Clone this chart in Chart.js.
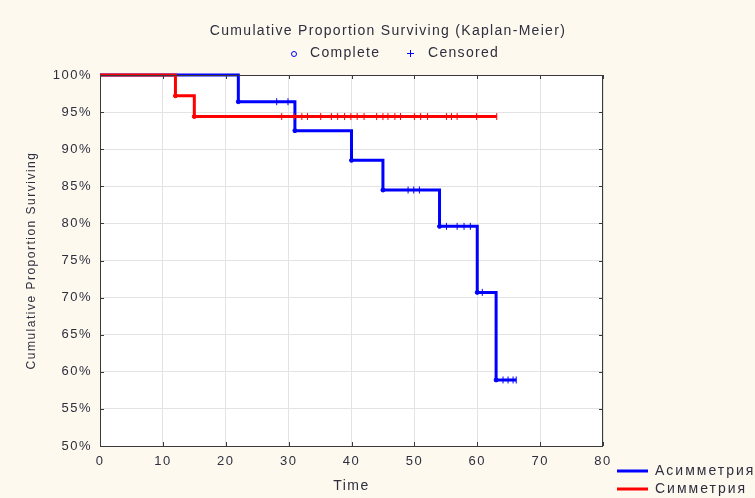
<!DOCTYPE html>
<html>
<head>
<meta charset="utf-8">
<script src="https://cdn.jsdelivr.net/npm/chart.js@4.4.1/dist/chart.umd.min.js"></script>
<style>
  html, body { margin: 0; padding: 0; background: #fdf9ef; }
  #wrap { width: 755px; height: 498px; }
</style>
</head>
<body>
<div id="wrap"><canvas id="km"></canvas></div>
<script>
  // Kaplan-Meier step curves: time and % surviving
  const asymName = 'Асимметрия';
  const asymTimes = [0, 22, 31, 40, 45, 54, 60, 63, 66.2];
  const asymSurv = [100, 96.4, 92.5, 88.5, 84.5, 79.6, 70.7, 58.9, 58.9];

  const symName = 'Симметрия';
  const symTimes = [0, 12, 15, 63.1];
  const symSurv = [100, 97.2, 94.4, 94.4];

  // Complete (event) times
  const asymComplete = [22, 31, 40, 45, 54, 60, 63];
  const symComplete = [12, 15];

  // Censored times
  const asymCensored = [28.1, 29.9, 49.0, 49.9, 50.8, 55.1, 56.8, 57.9, 58.9, 60.8, 64.1, 64.9, 65.7, 66.2];
  const symCensored = [28.9, 30.9, 32.1, 33.0, 35.1, 36.8, 37.8, 38.9, 39.9, 40.9, 42.0, 44.0,
    45.0, 45.8, 46.9, 47.8, 50.0, 51.0, 52.1, 55.1, 55.9, 56.8, 59.9, 63.1];

  // Axis ranges
  const xMin = 0, xMax = 80, xStep = 10;
  const yMin = 50, yMax = 100, yStep = 5;

  const textColor = '#2e2e3e';
  const fontFamily = '"Liberation Sans", Arial, sans-serif';

  // Helper: survival value of a step curve at time t
  function survAt(times, surv, t) {
    let v = surv[0];
    for (let i = 0; i < times.length; i++) {
      if (times[i] <= t) v = surv[i];
    }
    return v;
  }

  function curve(times, surv) {
    return times.map((t, i) => ({ x: t, y: surv[i] }));
  }

  function marks(times, curveTimes, curveSurv) {
    return times.map(t => ({ x: t, y: survAt(curveTimes, curveSurv, t) }));
  }

  // Draws the white plot area, frame, inner ticks, title and both legends
  const decorPlugin = {
    id: 'decor',
    beforeDraw(chart) {
      const { ctx, chartArea: a } = chart;
      ctx.letterSpacing = '1.5px';
      ctx.save();
      ctx.fillStyle = '#ffffff';
      ctx.fillRect(a.left, a.top, a.right - a.left, a.bottom - a.top);
      ctx.restore();
    },
    afterDraw(chart) {
      const { ctx, chartArea: a, scales } = chart;
      ctx.save();

      // frame
      ctx.strokeStyle = '#3a3a3a';
      ctx.lineWidth = 1;
      ctx.strokeRect(a.left + 0.5, a.top + 0.5, a.right - a.left - 1, a.bottom - a.top);

      // small ticks pointing into the plot
      ctx.beginPath();
      scales.x.ticks.forEach(tk => {
        const px = Math.round(scales.x.getPixelForValue(tk.value)) + 0.5;
        ctx.moveTo(px, a.bottom); ctx.lineTo(px, a.bottom - 4);
        ctx.moveTo(px, a.top); ctx.lineTo(px, a.top + 4);
      });
      scales.y.ticks.forEach(tk => {
        const py = Math.round(scales.y.getPixelForValue(tk.value)) + 0.5;
        ctx.moveTo(a.left, py); ctx.lineTo(a.left + 4, py);
        ctx.moveTo(a.right, py); ctx.lineTo(a.right - 4, py);
      });
      ctx.stroke();

      // title
      ctx.fillStyle = textColor;
      ctx.textBaseline = 'middle';
      ctx.letterSpacing = '1.3px';
      ctx.font = '14px ' + fontFamily;
      ctx.textAlign = 'center';
      ctx.fillText('Cumulative Proportion Surviving (Kaplan-Meier)', 388, 31);

      // marker legend
      ctx.textAlign = 'left';
      ctx.fillText('Complete', 310, 53);
      ctx.fillText('Censored', 428, 53);
      ctx.strokeStyle = '#0000ff';
      ctx.lineWidth = 1;
      ctx.beginPath();
      ctx.arc(294, 54, 2.5, 0, Math.PI * 2);
      ctx.stroke();
      ctx.beginPath();
      ctx.moveTo(407, 53.5); ctx.lineTo(414, 53.5);
      ctx.moveTo(410.5, 50); ctx.lineTo(410.5, 57);
      ctx.stroke();

      // series legend, bottom right
      const series = [chart.data.datasets[1], chart.data.datasets[0]];
      series.forEach((ds, i) => {
        const y = 471 + i * 18;
        ctx.strokeStyle = ds.borderColor;
        ctx.lineWidth = 3;
        ctx.beginPath();
        ctx.moveTo(617, y); ctx.lineTo(648, y);
        ctx.stroke();
        ctx.fillStyle = textColor;
        ctx.letterSpacing = '2px';
        ctx.fillText(ds.label, 655, y);
      });
      ctx.restore();
    }
  };

  const tickFont = { family: fontFamily, size: 13 };

  new Chart(document.getElementById('km'), {
    type: 'line',
    data: {
      datasets: [
        {
          label: symName,
          data: curve(symTimes, symSurv),
          borderColor: '#ff0000',
          borderWidth: 3,
          stepped: 'before',
          pointRadius: 0,
          fill: false,
          clip: 6,
          order: 1
        },
        {
          label: asymName,
          data: curve(asymTimes, asymSurv),
          borderColor: '#0000ff',
          borderWidth: 3,
          stepped: 'before',
          pointRadius: 0,
          fill: false,
          clip: 6,
          order: 2
        },
        {
          label: 'sym complete',
          data: marks(symComplete, symTimes, symSurv),
          showLine: false,
          pointStyle: 'circle',
          pointRadius: 2,
          borderColor: '#ff0000',
          backgroundColor: '#ff0000',
          borderWidth: 1,
          order: 0
        },
        {
          label: 'sym censored',
          data: marks(symCensored, symTimes, symSurv),
          showLine: false,
          pointStyle: 'line',
          pointRotation: 90,
          pointRadius: 3.5,
          borderColor: '#ff0000',
          borderWidth: 1,
          order: 0
        },
        {
          label: 'asym complete',
          data: marks(asymComplete, asymTimes, asymSurv),
          showLine: false,
          pointStyle: 'circle',
          pointRadius: 2,
          borderColor: '#0000ff',
          backgroundColor: '#0000ff',
          borderWidth: 1,
          order: 0
        },
        {
          label: 'asym censored',
          data: marks(asymCensored, asymTimes, asymSurv),
          showLine: false,
          pointStyle: 'line',
          pointRotation: 90,
          pointRadius: 3.5,
          borderColor: '#0000ff',
          borderWidth: 1,
          order: 0
        }
      ]
    },
    options: {
      responsive: true,
      maintainAspectRatio: false,
      animation: false,
      layout: { padding: { left: 0, top: 75, right: 152, bottom: 0 } },
      plugins: {
        legend: { display: false },
        title: { display: false },
        tooltip: { enabled: false }
      },
      scales: {
        x: {
          type: 'linear',
          min: xMin,
          max: xMax,
          afterFit: s => { s.height = 52; },
          ticks: { stepSize: xStep, font: tickFont, color: textColor, padding: 8, maxRotation: 0 },
          grid: { color: '#e3e3e3', drawTicks: false },
          border: { display: false },
          title: {
            display: true,
            text: 'Time',
            color: textColor,
            font: { family: fontFamily, size: 14 },
            padding: { top: 0, bottom: 3 }
          }
        },
        y: {
          min: yMin,
          max: yMax,
          afterFit: s => { s.width = 100; },
          ticks: {
            stepSize: yStep,
            font: tickFont,
            color: textColor,
            padding: 8,
            callback: v => v + '%'
          },
          grid: { color: '#e3e3e3', drawTicks: false },
          border: { display: false },
          title: {
            display: true,
            text: 'Cumulative Proportion Surviving',
            color: textColor,
            font: { family: fontFamily, size: 12 },
            padding: { top: 24, bottom: 0 }
          }
        }
      }
    },
    plugins: [decorPlugin]
  });
</script>
</body>
</html>
